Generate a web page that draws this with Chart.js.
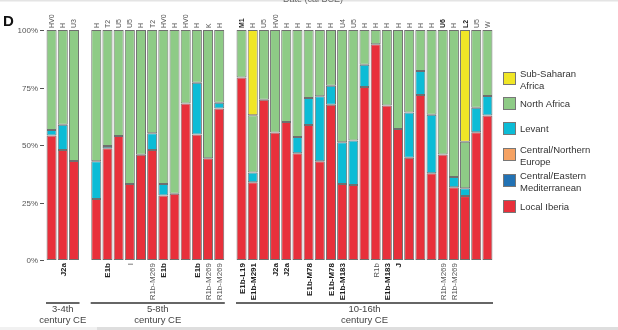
<!DOCTYPE html>
<html>
<head>
<meta charset="utf-8">
<script src="https://cdn.jsdelivr.net/npm/chart.js@4/dist/chart.umd.min.js"></script>
<style>
  html, body { margin: 0; padding: 0; background: #fff; }
  canvas { display: block; }
</style>
</head>
<body>
<canvas id="chart" width="618" height="330"></canvas>
<script>
// Per-individual ancestry proportions (%), three periods separated by an empty slot
const mtLabels = [
  'HV0', 'H', 'U3', '',
  'H', 'T2', 'U5', 'U5', 'H', 'T2', 'HV0', 'H', 'HV0', 'H', 'K', 'H', '',
  'M1', 'H', 'U5', 'HV0', 'H', 'H', 'H', 'H', 'H', 'U4', 'U5', 'H', 'H', 'H', 'H', 'H', 'H', 'H', 'U6', 'H', 'L2', 'U5', 'W'
];
const yLabels = [
  '', 'J2a', '', '',
  '', 'E1b', '', 'I', '', 'R1b-M269', 'E1b', '', '', 'E1b', 'R1b-M269', 'R1b-M269', '',
  'E1b-L19', 'E1b-M291', '', 'J2a', 'J2a', '', 'E1b-M78', '', 'E1b-M78', 'E1b-M183', '', '', 'R1b', 'E1b-M183', 'J', '', '', '', 'R1b-M269', 'R1b-M269', '', '', ''
];
const boldTop = ['M1', 'U6', 'L2'];
const boldBottom = ['J2a', 'E1b', 'E1b-L19', 'E1b-M291', 'E1b-M78', 'E1b-M183', 'J'];

const localIberia = [
  54.1, 47.8, 43.0, null,
  26.5, 48.6, 53.9, 33.0, 45.8, 47.8, 28.0, 28.8, 68.0, 54.6, 44.2, 65.9, null,
  79.4, 33.8, 69.7, 55.4, 60.0, 46.4, 58.7, 42.9, 67.5, 33.0, 32.6, 75.2, 93.8, 67.2, 57.0, 44.5, 71.7, 37.7, 45.9, 31.6, 27.8, 55.5, 62.8
];
const levant = [
  2.4, 11.0, null, null,
  16.4, 1.0, null, null, null, 7.3, 5.0, null, null, 22.5, null, 2.5, null,
  null, 4.2, null, null, null, 7.1, 11.7, 28.3, 8.3, 18.2, 19.4, 9.7, null, null, null, 19.6, 10.5, 25.5, null, 4.5, 3.4, 10.7, 8.5
];
const northAfrica = [
  43.5, 41.2, 57.0, null,
  57.1, 50.4, 46.1, 67.0, 54.2, 44.9, 67.0, 71.2, 32.0, 22.9, 55.8, 31.6, null,
  20.6, 24.9, 30.3, 44.6, 40.0, 46.5, 29.6, 28.8, 24.2, 48.8, 48.0, 15.1, 6.2, 32.8, 43.0, 35.9, 17.8, 36.8, 54.1, 63.9, 20.2, 33.8, 28.7
];
const subSaharan = [
  null, null, null, null,
  null, null, null, null, null, null, null, null, null, null, null, null, null,
  null, 37.1, null, null, null, null, null, null, null, null, null, null, null, null, null, null, null, null, null, null, 48.6, null, null
];

const yTicks = [0, 25, 50, 75, 100];
const periods = [
  { from: 0, to: 2, lines: ['3-4th', 'century CE'] },
  { from: 4, to: 15, lines: ['5-8th', 'century CE'] },
  { from: 17, to: 39, lines: ['10-16th', 'century CE'] }
];
const legendLabels = [['Sub-Saharan', 'Africa'], ['North Africa'], ['Levant'], ['Central/Northern', 'Europe'], ['Central/Eastern', 'Mediterranean'], ['Local Iberia']];
const legendColors = ['#f0e626', '#8ecb86', '#0cbcd6', '#f5a263', '#2272b4', '#e8303b'];

const FONT = '"Liberation Sans", Arial, Helvetica, sans-serif';
const EDGE = '#6f6f6f';

function seg(label, data, color) {
  return {
    label: label,
    data: data,
    backgroundColor: color,
    borderColor: EDGE,
    borderWidth: 1,
    borderSkipped: false,
    barPercentage: 0.9,
    categoryPercentage: 1.0
  };
}

const decorations = {
  id: 'decorations',
  beforeDraw(chart) {
    const ctx = chart.ctx;
    ctx.save();
    ctx.fillStyle = '#fff';
    ctx.fillRect(0, 0, chart.width, chart.height);
    ctx.restore();
  },
  afterDraw(chart) {
    const ctx = chart.ctx;
    const xs = chart.scales.x;
    const ys = chart.scales.y;
    const area = chart.chartArea;
    const step = (area.right - area.left) / mtLabels.length;
    ctx.save();

    // thin frame bits at top and bottom edges of the figure
    ctx.fillStyle = '#e4e4e4';
    ctx.fillRect(0, 0, chart.width, 1.5);
    ctx.fillStyle = '#f1f1f1';
    ctx.fillRect(0, 327, 97, 3);
    ctx.fillStyle = '#dedede';
    ctx.fillRect(97, 327, chart.width - 97, 3);

    // axis title, mostly cut off at the top
    ctx.fillStyle = '#666';
    ctx.font = '9px ' + FONT;
    ctx.textAlign = 'center';
    ctx.textBaseline = 'alphabetic';
    ctx.fillText('Date (cal BCE)', 313, 1.5);

    // panel letter
    ctx.fillStyle = '#111';
    ctx.font = 'bold 15px ' + FONT;
    ctx.textAlign = 'left';
    ctx.fillText('D', 3, 26);

    // y ticks
    ctx.font = '8px ' + FONT;
    ctx.fillStyle = '#555';
    ctx.strokeStyle = '#555';
    ctx.lineWidth = 1;
    ctx.textAlign = 'right';
    ctx.textBaseline = 'middle';
    yTicks.forEach(t => {
      const y = Math.round(ys.getPixelForValue(t)) + 0.5;
      ctx.fillText(t + '%', 38, y);
      ctx.beginPath();
      ctx.moveTo(40, y);
      ctx.lineTo(44, y);
      ctx.stroke();
    });

    // rotated labels above and below each bar
    mtLabels.forEach((lab, i) => {
      const x = xs.getPixelForValue(i);
      if (lab) {
        ctx.save();
        ctx.translate(x + 2.5, area.top - 2);
        ctx.rotate(-Math.PI / 2);
        ctx.font = (boldTop.includes(lab) ? 'bold ' : '') + '7px ' + FONT;
        ctx.fillStyle = boldTop.includes(lab) ? '#222' : '#555';
        ctx.textAlign = 'left';
        ctx.textBaseline = 'alphabetic';
        ctx.fillText(lab, 0, 0);
        ctx.restore();
      }
      const yl = yLabels[i];
      if (yl) {
        const bold = boldBottom.includes(yl);
        ctx.save();
        ctx.translate(x + 3, area.bottom + 3);
        ctx.rotate(-Math.PI / 2);
        ctx.font = (bold ? 'bold ' : '') + '8px ' + FONT;
        ctx.fillStyle = bold ? '#222' : '#555';
        ctx.textAlign = 'right';
        ctx.textBaseline = 'alphabetic';
        ctx.fillText(yl, 0, 0);
        ctx.restore();
      }
    });

    // period brackets
    periods.forEach(p => {
      const x0 = xs.getPixelForValue(p.from) - step / 2;
      const x1 = xs.getPixelForValue(p.to) + step / 2;
      ctx.strokeStyle = '#333';
      ctx.lineWidth = 1.3;
      ctx.beginPath();
      ctx.moveTo(x0, 303);
      ctx.lineTo(x1, 303);
      ctx.stroke();
      ctx.fillStyle = '#444';
      ctx.font = '9.5px ' + FONT;
      ctx.textAlign = 'center';
      ctx.textBaseline = 'middle';
      const cx = (x0 + x1) / 2;
      ctx.fillText(p.lines[0], cx, 309);
      ctx.fillText(p.lines[1], cx, 320);
    });

    // legend
    const boxY = [72, 97, 122, 148, 174, 200];
    legendLabels.forEach((lines, i) => {
      ctx.fillStyle = legendColors[i];
      ctx.fillRect(503.5, boxY[i] + 0.5, 12, 12);
      ctx.strokeStyle = '#777';
      ctx.lineWidth = 1;
      ctx.strokeRect(503.5, boxY[i] + 0.5, 12, 12);
      ctx.fillStyle = '#333';
      ctx.font = '9.5px ' + FONT;
      ctx.textAlign = 'left';
      ctx.textBaseline = 'middle';
      if (lines.length === 2) {
        ctx.fillText(lines[0], 520, boxY[i] + 2);
        ctx.fillText(lines[1], 520, boxY[i] + 14);
      } else {
        ctx.fillText(lines[0], 520, boxY[i] + 7);
      }
    });

    ctx.restore();
  }
};

new Chart(document.getElementById('chart'), {
  type: 'bar',
  data: {
    labels: mtLabels.map((l, i) => String(i)),
    datasets: [
      seg('Local Iberia', localIberia, '#e8303b'),
      seg('Levant', levant, '#0cbcd6'),
      seg('North Africa', northAfrica, '#8ecb86'),
      seg('Sub-Saharan Africa', subSaharan, '#f0e626')
    ]
  },
  options: {
    responsive: false,
    animation: false,
    layout: { padding: { left: 46, right: 125, top: 30, bottom: 70 } },
    plugins: { legend: { display: false }, tooltip: { enabled: false } },
    scales: {
      x: { stacked: true, display: false },
      y: { stacked: true, display: false, min: 0, max: 100 }
    }
  },
  plugins: [decorations]
});
</script>
</body>
</html>
